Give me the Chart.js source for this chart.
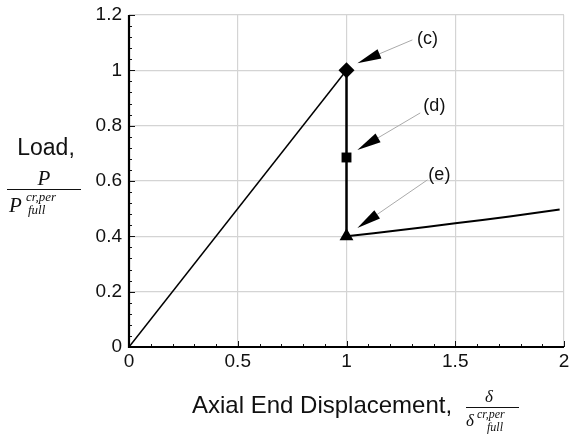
<!DOCTYPE html>
<html>
<head>
<meta charset="utf-8">
<script src="https://cdn.jsdelivr.net/npm/chart.js@4/dist/chart.umd.min.js"></script>
<style>
  html, body { margin: 0; padding: 0; background: #fff; overflow: hidden; }
  #wrap { width: 570px; height: 436px; position: relative; overflow: hidden; }
</style>
</head>
<body>
<div id="wrap"><canvas id="c" width="572" height="436"></canvas></div>
<script>
// ---- data ----
const loadingX = [0, 1];
const loadingY = [0, 1];
const dropX = [1, 1];
const dropY = [1, 0.4];
const postX = [1, 1.25, 1.5, 1.75, 1.98];
const postY = [0.4, 0.423, 0.447, 0.472, 0.497];
const markerX = [1, 1, 1];
const markerY = [1, 0.685, 0.4];
const markerLabels = ['(c)', '(d)', '(e)'];
const xTickValues = [0, 0.5, 1, 1.5, 2];
const xTickLabels = ['0', '0.5', '1', '1.5', '2'];
const yTickValues = [0, 0.2, 0.4, 0.6, 0.8, 1, 1.2];
const yTickLabels = ['0', '0.2', '0.4', '0.6', '0.8', '1', '1.2'];

const toPts = (xs, ys) => xs.map((x, i) => ({x: x, y: ys[i]}));

// annotation geometry (data units): text anchor, line start, arrow tip
const annos = [
  {text: markerLabels[0], tx: 1.372, ty: 1.113, sx: 1.303, sy: 1.110, ex: 1.050, ey: 1.026},
  {text: markerLabels[1], tx: 1.404, ty: 0.871, sx: 1.339, sy: 0.846, ex: 1.050, ey: 0.712},
  {text: markerLabels[2], tx: 1.427, ty: 0.622, sx: 1.372, sy: 0.604, ex: 1.050, ey: 0.430}
];

const innerTicks = {
  id: 'innerTicks',
  afterDatasetsDraw(chart) {
    const ctx = chart.ctx, xs = chart.scales.x, ys = chart.scales.y;
    const a = chart.chartArea;
    ctx.save();
    ctx.strokeStyle = '#111';
    ctx.lineWidth = 1;
    for (let i = 0; i <= 30; i++) {
      const v = i * 0.04;
      const p = Math.round(ys.getPixelForValue(v)) + 0.5;
      const len = (i % 5 === 0) ? 6 : 3;
      ctx.beginPath(); ctx.moveTo(a.left, p); ctx.lineTo(a.left + len, p); ctx.stroke();
    }
    for (let i = 0; i <= 20; i++) {
      const v = i * 0.1;
      const p = Math.round(xs.getPixelForValue(v)) + 0.5;
      const len = (i % 5 === 0) ? 6 : 3;
      ctx.beginPath(); ctx.moveTo(p, a.bottom); ctx.lineTo(p, a.bottom - len); ctx.stroke();
    }
    ctx.lineWidth = 2.2;
    ctx.strokeStyle = '#000';
    ctx.beginPath();
    ctx.moveTo(a.left, a.top);
    ctx.lineTo(a.left, a.bottom);
    ctx.lineTo(a.right, a.bottom);
    ctx.stroke();
    ctx.restore();
  }
};

const annotations = {
  id: 'annotations',
  afterDatasetsDraw(chart) {
    const ctx = chart.ctx, xs = chart.scales.x, ys = chart.scales.y;
    ctx.save();
    annos.forEach(an => {
      const sx = xs.getPixelForValue(an.sx), sy = ys.getPixelForValue(an.sy);
      const ex = xs.getPixelForValue(an.ex), ey = ys.getPixelForValue(an.ey);
      const ang = Math.atan2(ey - sy, ex - sx);
      const L = 24, W = 5;
      const bx = ex - L * Math.cos(ang), by = ey - L * Math.sin(ang);
      ctx.strokeStyle = '#aaaaaa';
      ctx.lineWidth = 1;
      ctx.beginPath(); ctx.moveTo(sx, sy); ctx.lineTo(bx, by); ctx.stroke();
      ctx.fillStyle = '#000';
      ctx.beginPath();
      ctx.moveTo(ex, ey);
      ctx.lineTo(bx + W * Math.sin(ang), by - W * Math.cos(ang));
      ctx.lineTo(bx - W * Math.sin(ang), by + W * Math.cos(ang));
      ctx.closePath(); ctx.fill();
      ctx.font = '18px "Liberation Sans", Arial, sans-serif';
      ctx.textAlign = 'center'; ctx.textBaseline = 'middle';
      ctx.fillStyle = '#111';
      ctx.fillText(an.text, xs.getPixelForValue(an.tx), ys.getPixelForValue(an.ty));
    });
    ctx.restore();
  }
};

const titles = {
  id: 'titles',
  afterDraw(chart) {
    const ctx = chart.ctx;
    ctx.save();
    ctx.fillStyle = '#111';
    ctx.strokeStyle = '#111';
    ctx.textBaseline = 'alphabetic';
    // Y title
    ctx.font = '23px "Liberation Sans", Arial, sans-serif';
    ctx.textAlign = 'center';
    ctx.fillText('Load,', 46, 155);
    ctx.font = 'italic 21px "Liberation Serif", "DejaVu Serif", serif';
    ctx.fillText('P', 44, 185);
    ctx.lineWidth = 1;
    ctx.beginPath(); ctx.moveTo(7, 189.5); ctx.lineTo(81, 189.5); ctx.stroke();
    ctx.textAlign = 'left';
    ctx.fillText('P', 9, 212);
    ctx.font = 'italic 13px "Liberation Serif", "DejaVu Serif", serif';
    ctx.fillText('cr,per', 26, 201);
    ctx.fillText('full', 28, 214);
    // X title
    ctx.font = '24px "Liberation Sans", Arial, sans-serif';
    ctx.textAlign = 'left';
    ctx.fillText('Axial End Displacement,', 192, 413);
    ctx.font = 'italic 17px "Liberation Serif", "DejaVu Serif", serif';
    ctx.textAlign = 'center';
    ctx.fillText('\u03B4', 489, 402);
    ctx.beginPath(); ctx.moveTo(466, 407.5); ctx.lineTo(519, 407.5); ctx.stroke();
    ctx.textAlign = 'left';
    ctx.fillText('\u03B4', 466, 426);
    ctx.font = 'italic 12px "Liberation Serif", "DejaVu Serif", serif';
    ctx.fillText('cr,per', 477, 418);
    ctx.fillText('full', 487, 431);
    ctx.restore();
  }
};

new Chart(document.getElementById('c'), {
  type: 'scatter',
  data: {
    datasets: [
      {data: toPts(loadingX, loadingY), showLine: true, borderColor: '#000', borderWidth: 1.5, pointRadius: 0, fill: false},
      {data: toPts(dropX, dropY), showLine: true, borderColor: '#000', borderWidth: 2.5, pointRadius: 0, fill: false},
      {data: toPts(postX, postY), showLine: true, borderColor: '#000', borderWidth: 2, pointRadius: 0, tension: 0.3, fill: false},
      {data: toPts(markerX, markerY), showLine: false, pointStyle: ['rectRot', 'rect', 'triangle'],
       pointRadius: [8, 7, 8], backgroundColor: '#000', borderColor: '#000', borderWidth: 0}
    ]
  },
  options: {
    responsive: false,
    animation: false,
    events: [],
    layout: {padding: {top: 15, right: 0, left: 0, bottom: 0}},
    plugins: {legend: {display: false}, tooltip: {enabled: false}, title: {display: false}},
    scales: {
      x: {
        type: 'linear', min: 0, max: 2,
        afterBuildTicks: s => { s.ticks = xTickValues.map(v => ({value: v})); },
        afterFit: s => { s.height = 89; s.paddingLeft = 0; s.paddingRight = 0; },
        grid: {color: '#d4d4d4', lineWidth: 1.2, drawTicks: false},
        border: {display: false},
        ticks: {color: '#111', padding: 3, font: {family: '"Liberation Sans", Arial, sans-serif', size: 19}, maxRotation: 0,
                callback: (v, i) => xTickLabels[i]}
      },
      y: {
        type: 'linear', min: 0, max: 1.2,
        afterBuildTicks: s => { s.ticks = yTickValues.map(v => ({value: v})); },
        afterFit: s => { s.width = 129; s.paddingTop = 0; s.paddingBottom = 0; },
        grid: {color: '#d4d4d4', lineWidth: 1.2, drawTicks: false},
        border: {display: false},
        ticks: {color: '#111', padding: 7, font: {family: '"Liberation Sans", Arial, sans-serif', size: 19},
                callback: (v, i) => yTickLabels[i]}
      }
    }
  },
  plugins: [innerTicks, annotations, titles]
});
</script>
</body>
</html>
